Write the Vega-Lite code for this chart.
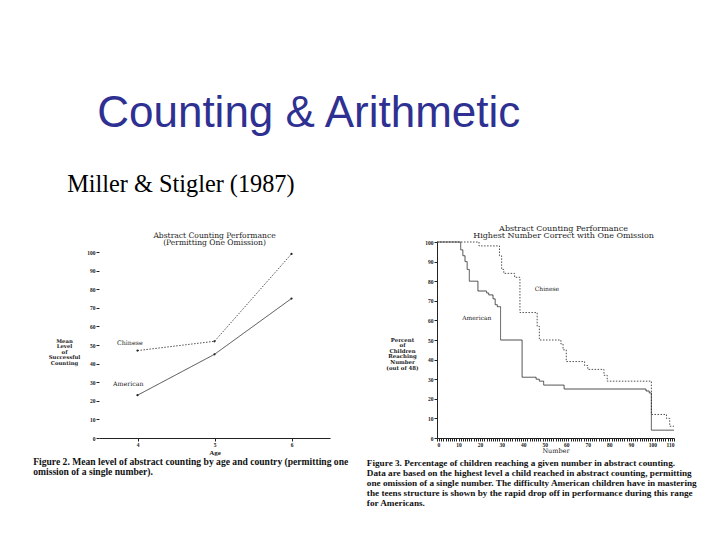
{
  "$schema": "https://vega.github.io/schema/vega-lite/v6.json",
  "background": "white",
  "padding": {"left": 33, "top": 92, "right": 5, "bottom": 5},
  "title": {"text": "Counting & Arithmetic", "anchor": "start", "frame": "bounds", "font": "Liberation Sans", "fontSize": 44, "fontWeight": "normal", "color": "#2E3192", "dx": 64, "offset": 37},
  "datasets": {
    "fig2": [
      {"country": "Chinese", "age": 4, "mean": 47},
      {"country": "Chinese", "age": 5, "mean": 52},
      {"country": "Chinese", "age": 6, "mean": 99},
      {"country": "American", "age": 4, "mean": 23},
      {"country": "American", "age": 5, "mean": 45},
      {"country": "American", "age": 6, "mean": 75}
    ],
    "fig2labels": [
      {"label": "Chinese", "age": 3.9, "mean": 51},
      {"label": "American", "age": 3.88, "mean": 29}
    ],
    "fig3": [
      {"country": "American", "number": 0, "pct": 100},
      {"country": "American", "number": 11, "pct": 96},
      {"country": "American", "number": 12, "pct": 93},
      {"country": "American", "number": 13, "pct": 90},
      {"country": "American", "number": 14, "pct": 86},
      {"country": "American", "number": 15, "pct": 80},
      {"country": "American", "number": 19, "pct": 75},
      {"country": "American", "number": 23, "pct": 74},
      {"country": "American", "number": 24, "pct": 73},
      {"country": "American", "number": 26, "pct": 71},
      {"country": "American", "number": 27, "pct": 68},
      {"country": "American", "number": 28, "pct": 67},
      {"country": "American", "number": 29.5, "pct": 50},
      {"country": "American", "number": 39.5, "pct": 31},
      {"country": "American", "number": 46, "pct": 30},
      {"country": "American", "number": 47.5, "pct": 29},
      {"country": "American", "number": 49.5, "pct": 27},
      {"country": "American", "number": 59, "pct": 25},
      {"country": "American", "number": 97, "pct": 24},
      {"country": "American", "number": 98.5, "pct": 23},
      {"country": "American", "number": 99.5, "pct": 4},
      {"country": "American", "number": 110, "pct": 4},
      {"country": "Chinese", "number": 0, "pct": 100},
      {"country": "Chinese", "number": 19.5, "pct": 98},
      {"country": "Chinese", "number": 29, "pct": 93},
      {"country": "Chinese", "number": 30, "pct": 86},
      {"country": "Chinese", "number": 31, "pct": 84},
      {"country": "Chinese", "number": 36, "pct": 82},
      {"country": "Chinese", "number": 38.5, "pct": 64},
      {"country": "Chinese", "number": 46.5, "pct": 57},
      {"country": "Chinese", "number": 47.5, "pct": 50},
      {"country": "Chinese", "number": 57.5, "pct": 48},
      {"country": "Chinese", "number": 58.5, "pct": 45},
      {"country": "Chinese", "number": 60, "pct": 39},
      {"country": "Chinese", "number": 68.5, "pct": 37},
      {"country": "Chinese", "number": 70, "pct": 35},
      {"country": "Chinese", "number": 77.5, "pct": 32},
      {"country": "Chinese", "number": 79, "pct": 29},
      {"country": "Chinese", "number": 99.5, "pct": 12},
      {"country": "Chinese", "number": 106.5, "pct": 10},
      {"country": "Chinese", "number": 108, "pct": 6},
      {"country": "Chinese", "number": 110, "pct": 6}
    ],
    "fig3labels": [
      {"label": "Chinese", "number": 51, "pct": 76},
      {"label": "American", "number": 18.5, "pct": 61}
    ]
  },
  "vconcat": [
    {
      "title": {"text": "Miller & Stigler (1987)", "anchor": "start", "frame": "bounds", "font": "Liberation Serif", "fontSize": 24.3, "fontWeight": "normal", "color": "#000000", "dx": 34, "offset": 27},
      "spacing": 15,
      "hconcat": [
        {
          "title": {"text": ["Figure 2.  Mean level of abstract counting by age and country (permitting one", "omission of a single number)."], "orient": "bottom", "anchor": "start", "frame": "bounds", "font": "Liberation Serif", "fontSize": 9.6, "fontWeight": "bold", "lineHeight": 10, "offset": 1, "dx": -15, "color": "#111"},
          "vconcat": [
            {
              "width": 231,
              "height": 196,
              "title": {"text": ["Abstract Counting Performance", "(Permitting One Omission)"], "font": "DejaVu Serif", "fontSize": 7.6, "fontWeight": "normal", "lineHeight": 7.5, "offset": -5, "color": "#222"},
              "encoding": {
                "x": {"field": "age", "type": "quantitative", "scale": {"domain": [3.5, 6.5]}, "axis": {"values": [4, 5, 6], "format": "d", "title": "Age", "titlePadding": 1}},
                "y": {"field": "mean", "type": "quantitative", "scale": {"domain": [0, 105.4]}, "axis": {"values": [0, 10, 20, 30, 40, 50, 60, 70, 80, 90, 100], "labelOverlap": false, "domain": false, "title": ["Mean", "Level", "of", "Successful", "Counting"], "titleFont": "DejaVu Serif", "titleFontSize": 5.3, "titleAngle": 0, "titleAlign": "center", "titleBaseline": "middle", "titleX": -35, "titleY": 98, "titleLineHeight": 5.5}}
              },
              "layer": [
                {
                  "data": {"name": "fig2"},
                  "mark": {"type": "line", "color": "#222", "strokeWidth": 0.8},
                  "encoding": {
                    "strokeDash": {"field": "country", "type": "nominal", "scale": {"domain": ["American", "Chinese"], "range": [[1, 0], [1.5, 1.5]]}, "legend": null}
                  }
                },
                {
                  "data": {"name": "fig2"},
                  "mark": {"type": "point", "filled": true, "color": "#222", "size": 5, "opacity": 1}
                },
                {
                  "data": {"values": [{}]},
                  "mark": {"type": "rule", "color": "#222", "strokeWidth": 1},
                  "encoding": {"x": {"datum": 3.5}, "y": {"datum": 0}, "y2": {"datum": 100}}
                },
                {
                  "data": {"name": "fig2labels"},
                  "mark": {"type": "text", "font": "DejaVu Serif", "fontSize": 6.3, "color": "#222"},
                  "encoding": {
                    "text": {"field": "label"}
                  }
                }
              ]
            }
          ]
        },
        {
          "title": {"text": ["Figure 3.  Percentage of children reaching a given number in abstract counting.", "Data are based on the highest level a child reached in abstract counting, permitting", "one omission of a single number. The difficulty American children have in mastering", "the teens structure is shown by the rapid drop off in performance during this range", "for Americans."], "orient": "bottom", "anchor": "start", "frame": "bounds", "font": "Liberation Serif", "fontSize": 9.2, "fontWeight": "bold", "lineHeight": 10, "offset": 5, "dx": -19, "color": "#111"},
          "vconcat": [
            {
              "width": 237,
              "height": 196,
              "title": {"text": ["Abstract Counting Performance", "Highest Number Correct with One Omission"], "font": "DejaVu Serif", "fontSize": 8, "fontWeight": "normal", "lineHeight": 7.5, "offset": 0, "dx": 8, "color": "#222"},
              "encoding": {
                "x": {"field": "number", "type": "quantitative", "scale": {"domain": [0, 110]}, "axis": {"tickCount": 110, "labelExpr": "datum.value % 10 === 0 ? datum.label : ''", "labelOverlap": false, "tickSize": 3, "title": "Number", "titleFont": "DejaVu Serif", "titleFontSize": 6.5, "titleFontWeight": "normal", "titlePadding": 0}},
                "y": {"field": "pct", "type": "quantitative", "scale": {"domain": [0, 100]}, "axis": {"values": [0, 10, 20, 30, 40, 50, 60, 70, 80, 90, 100], "labelOverlap": false, "title": ["Percent", "of", "Children", "Reaching", "Number", "(out of 48)"], "titleFont": "DejaVu Serif", "titleFontSize": 5.4, "titleAngle": 0, "titleAlign": "center", "titleBaseline": "middle", "titleX": -35, "titleY": 97, "titleLineHeight": 5.6}}
              },
              "layer": [
                {
                  "data": {"name": "fig3"},
                  "mark": {"type": "line", "color": "#222", "strokeWidth": 0.8, "interpolate": "step-after"},
                  "encoding": {
                    "strokeDash": {"field": "country", "type": "nominal", "scale": {"domain": ["American", "Chinese"], "range": [[1, 0], [1.5, 1.5]]}, "legend": null}
                  }
                },
                {
                  "data": {"name": "fig3labels"},
                  "mark": {"type": "text", "font": "DejaVu Serif", "fontSize": 6, "color": "#222"},
                  "encoding": {
                    "text": {"field": "label"}
                  }
                }
              ]
            }
          ]
        }
      ]
    }
  ],
  "config": {
    "view": {"stroke": null},
    "axis": {"grid": false, "domainColor": "#222", "tickColor": "#222", "tickSize": 3, "labelFont": "Liberation Serif", "labelFontSize": 5.5, "labelFontWeight": "bold", "labelColor": "#222", "labelPadding": 1, "titleFont": "Liberation Serif", "titleFontSize": 7, "titleFontWeight": "bold", "titleColor": "#222"}
  }
}
